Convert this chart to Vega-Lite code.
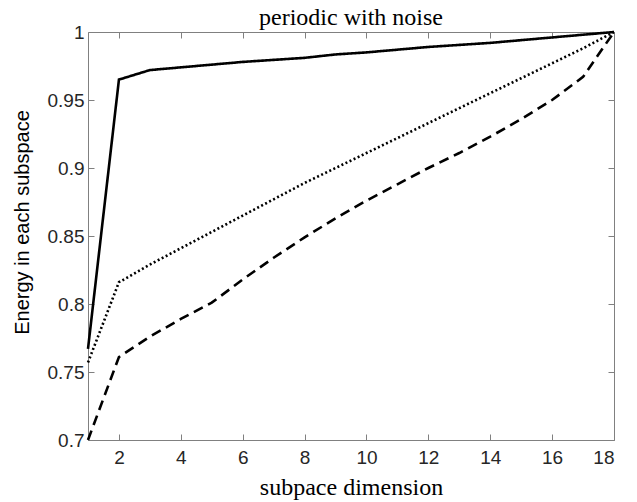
{
  "$schema": "https://vega.github.io/schema/vega-lite/v6.json",
  "width": 526,
  "height": 408,
  "autosize": {"type": "none"},
  "padding": {"left": 88, "top": 32, "right": 23, "bottom": 62},
  "background": "white",
  "title": {"text": "periodic with noise", "font": "Liberation Serif", "fontSize": 24, "fontWeight": "normal", "color": "#000000", "offset": -7},
  "config": {
    "view": {"stroke": null},
    "axis": {
      "grid": false,
      "domainColor": "#808080",
      "domainWidth": 1,
      "tickColor": "#808080",
      "tickWidth": 1,
      "tickSize": -6,
      "labelColor": "#262626",
      "labelFont": "Liberation Sans",
      "labelFontSize": 19,
      "titleColor": "#000000",
      "titleFontWeight": "normal"
    }
  },
  "data": {"values": [
    {"x": 1, "y": 0.767, "s": "solid"}, {"x": 2, "y": 0.965, "s": "solid"}, {"x": 3, "y": 0.972, "s": "solid"}, {"x": 4, "y": 0.974, "s": "solid"}, {"x": 5, "y": 0.976, "s": "solid"}, {"x": 6, "y": 0.978, "s": "solid"}, {"x": 7, "y": 0.9795, "s": "solid"}, {"x": 8, "y": 0.981, "s": "solid"}, {"x": 9, "y": 0.9835, "s": "solid"}, {"x": 10, "y": 0.985, "s": "solid"}, {"x": 11, "y": 0.987, "s": "solid"}, {"x": 12, "y": 0.989, "s": "solid"}, {"x": 13, "y": 0.9905, "s": "solid"}, {"x": 14, "y": 0.992, "s": "solid"}, {"x": 15, "y": 0.994, "s": "solid"}, {"x": 16, "y": 0.996, "s": "solid"}, {"x": 17, "y": 0.998, "s": "solid"}, {"x": 18, "y": 1.0, "s": "solid"},
    {"x": 1, "y": 0.757, "s": "dotted"}, {"x": 2, "y": 0.816, "s": "dotted"}, {"x": 3, "y": 0.829, "s": "dotted"}, {"x": 4, "y": 0.841, "s": "dotted"}, {"x": 5, "y": 0.853, "s": "dotted"}, {"x": 6, "y": 0.865, "s": "dotted"}, {"x": 7, "y": 0.877, "s": "dotted"}, {"x": 8, "y": 0.889, "s": "dotted"}, {"x": 9, "y": 0.900, "s": "dotted"}, {"x": 10, "y": 0.911, "s": "dotted"}, {"x": 11, "y": 0.922, "s": "dotted"}, {"x": 12, "y": 0.933, "s": "dotted"}, {"x": 13, "y": 0.944, "s": "dotted"}, {"x": 14, "y": 0.955, "s": "dotted"}, {"x": 15, "y": 0.966, "s": "dotted"}, {"x": 16, "y": 0.977, "s": "dotted"}, {"x": 17, "y": 0.988, "s": "dotted"}, {"x": 18, "y": 1.0, "s": "dotted"},
    {"x": 1, "y": 0.700, "s": "dashed"}, {"x": 2, "y": 0.761, "s": "dashed"}, {"x": 3, "y": 0.776, "s": "dashed"}, {"x": 4, "y": 0.789, "s": "dashed"}, {"x": 5, "y": 0.801, "s": "dashed"}, {"x": 6, "y": 0.818, "s": "dashed"}, {"x": 7, "y": 0.834, "s": "dashed"}, {"x": 8, "y": 0.849, "s": "dashed"}, {"x": 9, "y": 0.863, "s": "dashed"}, {"x": 10, "y": 0.876, "s": "dashed"}, {"x": 11, "y": 0.888, "s": "dashed"}, {"x": 12, "y": 0.900, "s": "dashed"}, {"x": 13, "y": 0.911, "s": "dashed"}, {"x": 14, "y": 0.923, "s": "dashed"}, {"x": 15, "y": 0.936, "s": "dashed"}, {"x": 16, "y": 0.950, "s": "dashed"}, {"x": 17, "y": 0.967, "s": "dashed"}, {"x": 18, "y": 1.0, "s": "dashed"}
  ]},
  "layer": [
    {
      "mark": {"type": "line", "color": "#000000", "strokeWidth": 2.6, "clip": false},
      "encoding": {
        "x": {"field": "x", "type": "quantitative", "scale": {"domain": [1, 18], "nice": false, "zero": false},
          "axis": {"values": [2, 4, 6, 8, 10, 12, 14, 16, 18], "format": "d", "labelPadding": 14, "title": "subpace dimension", "titleFont": "Liberation Serif", "titleFontSize": 24, "titlePadding": 8}},
        "y": {"field": "y", "type": "quantitative", "scale": {"domain": [0.7, 1], "nice": false, "zero": false},
          "axis": {"values": [0.7, 0.75, 0.8, 0.85, 0.9, 0.95, 1], "format": "~g", "labelPadding": 10, "title": "Energy in each subspace", "titleFont": "Liberation Sans", "titleFontSize": 20, "titlePadding": 15, "titleY": 190}},
        "strokeDash": {"field": "s", "type": "nominal", "scale": {"domain": ["solid", "dotted", "dashed"], "range": [[1, 0], [2, 2.5], [10, 6]]}, "legend": null},
        "detail": {"field": "s", "type": "nominal"}
      }
    },
    {
      "mark": {"type": "point", "opacity": 0},
      "encoding": {
        "x": {"field": "x", "type": "quantitative", "axis": {"orient": "top", "values": [2, 4, 6, 8, 10, 12, 14, 16, 18], "labels": false, "title": null}},
        "y": {"field": "y", "type": "quantitative", "axis": {"orient": "right", "values": [0.7, 0.75, 0.8, 0.85, 0.9, 0.95, 1], "labels": false, "title": null}}
      }
    }
  ],
  "resolve": {"axis": {"x": "independent", "y": "independent"}}
}
